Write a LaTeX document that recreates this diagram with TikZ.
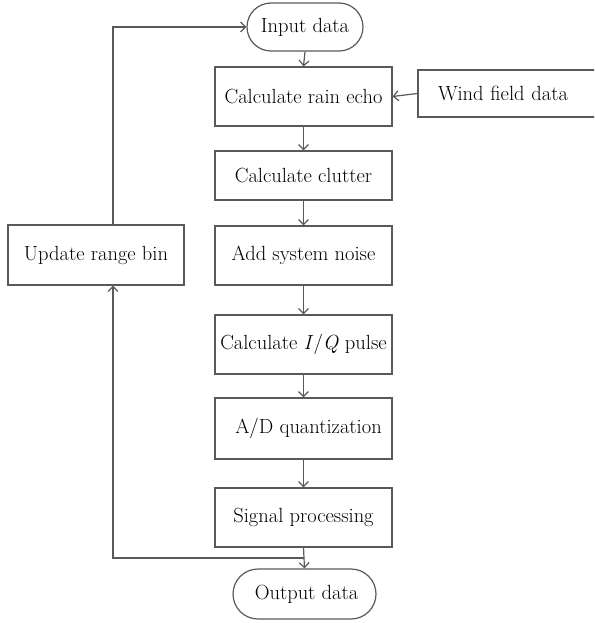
\documentclass[tikz,border=0pt]{standalone}
\usetikzlibrary{arrows.meta,calc}
\begin{document}
\begin{tikzpicture}[x=1pt,y=-1pt,
  every node/.style={font=\fontsize{20.5}{24}\selectfont, text=black},
  line/.style={draw=black!65, line width=1.2pt},
  procbox/.style={line, rectangle, minimum width=177pt, inner sep=0pt},
  term/.style={line, rectangle, rounded corners=24pt, inner sep=0pt},
  arr/.style={line, -{Straight Barb[length=5pt,width=10pt]}}]
\useasboundingbox (0,0) rectangle (594,623);
\node[term, minimum width=116pt, minimum height=48pt] (in) at (305,27) {Input data};
\node[procbox, minimum height=59pt] (rain) at (303.5,96.5) {Calculate rain echo};
\node[procbox, minimum height=49pt] (clut) at (303.5,175.5) {Calculate clutter};
\node[procbox, minimum height=59pt] (noise) at (303.5,255.5) {Add system noise};
\node[procbox, minimum height=59pt] (iq) at (303.5,344.5) {Calculate \textit{I}/\textit{Q} pulse};
\node[procbox, minimum height=61pt] (ad) at (303.5,428.5) {\hspace{10pt}A/D quantization};
\node[procbox, minimum height=59pt] (sig) at (303.5,517.5) {Signal processing};
\node[term, minimum width=143pt, minimum height=50pt, rounded corners=25pt] (out) at (304.5,594) {\hspace{4pt}Output data};
\node[line, rectangle, minimum width=176pt, minimum height=60pt, inner sep=0pt] (upd) at (96,255) {Update range bin};
\begin{scope}
\clip (0,0) rectangle (594,623);
\node[line, rectangle, minimum width=200pt, minimum height=47pt, inner sep=0pt,
      text width=178pt, align=left, inner xsep=14pt] (wind) at (521,93.5) {\hspace{6pt}Wind field data};
\end{scope}
\draw[arr] (in.south) -- (rain.north);
\draw[arr] (wind.west) -- (rain.east);
\draw[arr] (rain.south) -- (clut.north);
\draw[arr] (clut.south) -- (noise.north);
\draw[arr] (noise.south) -- (iq.north);
\draw[arr] (iq.south) -- (ad.north);
\draw[arr] (ad.south) -- (sig.north);
\draw[arr] (sig.south) -- (out.north);
\coordinate (j) at ($(sig.south)!0.5!(out.north)$);
\draw[arr] (j) -| ([xshift=17pt]upd.south);
\draw[arr] ([xshift=17pt]upd.north) |- (in.west);
\end{tikzpicture}
\end{document}
